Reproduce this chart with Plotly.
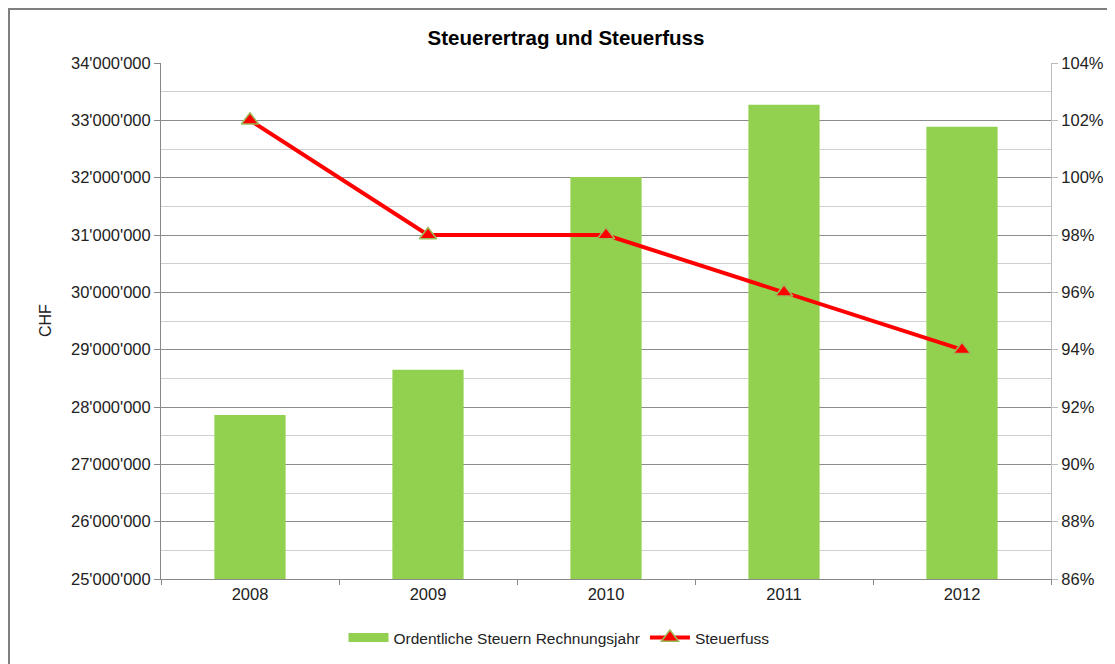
import plotly.graph_objects as go

years = ["2008", "2009", "2010", "2011", "2012"]
steuern = [27860000, 28650000, 32010000, 33270000, 32890000]
steuerfuss = [102, 98, 98, 96, 94]

W, H = 1107, 656          # page body has an 8px margin
L, R, T, B = 153, 64, 55, 85

fig = go.Figure()
fig.add_trace(go.Bar(
    x=years, y=steuern, name="Ordentliche Steuern Rechnungsjahr", showlegend=False,
    marker=dict(color="#92D050", line=dict(width=0)), yaxis="y"))
# legend entry with wide bar-like swatch
fig.add_trace(go.Scatter(
    x=[None], y=[None], name="Ordentliche Steuern Rechnungsjahr", mode="lines",
    line=dict(color="#92D050", width=9), yaxis="y"))
fig.add_trace(go.Scatter(
    x=years, y=steuerfuss, name="Steuerfuss", yaxis="y2", mode="lines+markers",
    line=dict(color="#FF0000", width=4),
    marker=dict(symbol="triangle-up", size=15, color="#FF0000",
                line=dict(color="#9BBB59", width=1.5))))

font = "Liberation Sans, Arial, sans-serif"
pw, ph = W - L - R, H - T - B
fig.update_layout(
    width=W, height=H,
    margin=dict(l=L, r=R, t=T, b=B),
    paper_bgcolor="white", plot_bgcolor="white",
    separators=".'",
    font=dict(family=font, size=16, color="#222"),
    title=dict(text="<b>Steuerertrag und Steuerfuss</b>", x=(566 - 8) / W,
               xanchor="center", y=1 - 30 / H, yanchor="middle",
               font=dict(size=20.5, color="#000")),
    bargap=0.6,
    showlegend=True,
    legend=dict(orientation="h", x=(559 - 8) / W, xanchor="center", xref="container",
                y=(H - (638 - 8)) / H, yanchor="middle", yref="container",
                font=dict(size=15.5, color="#222"), itemwidth=40, tracegroupgap=0),
    xaxis=dict(type="category", showgrid=False, showline=True, linecolor="#888",
               linewidth=1, ticks="outside", tickson="boundaries", ticklen=5,
               tickcolor="#888", tickfont=dict(size=16.5)),
    yaxis=dict(range=[25000000, 34000000], dtick=1000000, tickformat=",d",
               showgrid=True, gridcolor="#8c8c8c", gridwidth=1,
               minor=dict(dtick=500000, showgrid=True, gridcolor="#d0d0d0", gridwidth=1),
               showline=True, linecolor="#888", linewidth=1,
               ticks="outside", ticklen=6, tickcolor="#888",
               tickfont=dict(size=16.5), zeroline=False),
    yaxis2=dict(range=[86, 104], dtick=2, ticksuffix="%", overlaying="y", side="right",
                showgrid=False, showline=True, linecolor="#bbb", linewidth=1,
                ticks="outside", ticklen=6, tickcolor="#bbb",
                tickfont=dict(size=16.5), zeroline=False),
)

def px(x): return (x - 8 - L) / pw
def py(y): return (H - B - (y - 8)) / ph

fig.add_annotation(text="CHF", textangle=-90, xref="paper", yref="paper",
                   x=px(45), y=py(321), showarrow=False, xanchor="center", yanchor="middle",
                   font=dict(size=16, color="#222"))

# outer chart frame
fig.add_shape(type="rect", xref="paper", yref="paper",
              x0=px(9), x1=px(1125), y0=py(680), y1=py(9),
              line=dict(color="#7f7f7f", width=2), fillcolor="rgba(0,0,0,0)", layer="below")

fig.write_html("out.html")
